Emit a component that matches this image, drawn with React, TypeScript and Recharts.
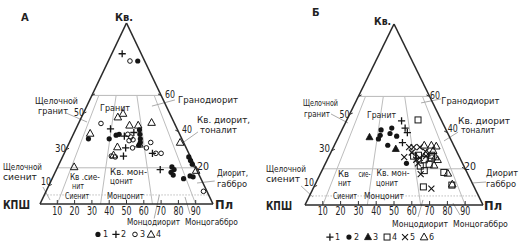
import React from 'react';
import { ScatterChart, Scatter, XAxis, YAxis, ReferenceLine, ReferenceDot } from 'recharts';

// ---- data: [Q, P] in percent (Q = кварц, P = плагиоклаз, КПШ = 100 - Q - P)
const leftS1: number[][] = [[79,17],[36,10],[36,22],[38,25],[38.5,26.5],[41,37],[38.5,38.5],[36,40],[34,41],[32.5,41],[26,73],[24,75],[22,77],[20.5,66],[19,68],[17.5,67],[16,69],[14,76],[15.5,79],[15,81]];
const leftS2: number[][] = [[83,6],[41.5,20],[37.5,30],[39.5,34.5],[31,34],[26.5,35],[28,51],[19,60]];
const leftS3: number[][] = [[79,12.5],[44.5,13],[38.5,31.5],[37,34],[35,34],[35.5,36],[31,38],[31,46],[34,47],[26.5,28],[26,30.5],[28,53],[28,56],[7,91]];
const leftS4: number[][] = [[48,21],[50,23],[43.5,30],[43.5,35],[45,42],[39,9.5],[31.5,29],[33,41],[27,29],[34,64],[20.5,9.5],[18.5,81]];

const rightS1: number[][] = [[46.5,31],[42.5,35],[40,37.5],[34.5,37.5]];
const rightS2: number[][] = [[41.5,22],[42.5,27.5],[39.5,28],[38.5,23],[36.5,23],[38,32.5],[33,30],[23,45.5]];
const rightS3: number[][] = [[37.5,17.5],[31,35.5]];
const rightS4: number[][] = [[47,40],[27.5,50],[25,54.5],[22.5,58.5],[21.5,54],[26,58],[19,57.5],[18,69],[11,77],[10,61.5],[27.5,57.5],[27,47.5]];
const rightS5: number[][] = [[32,42.5],[32,45],[32,48.5],[26.5,42.5],[29,45.5],[25,50],[27,54.5],[17,56.5],[9,66.5],[23,52],[29.5,53],[26,51.5]];
const rightS6: number[][] = [[33,50.5],[33,54.5],[32.5,57.5],[30,57],[26.5,60],[28.5,54],[17.5,71.5],[11.5,77],[22,61.5],[25,62]];

const baseTicks = [10, 20, 30, 40, 50, 60, 70, 80, 90];
const qLines = [60, 20];
const radialRatios = [10, 35, 65, 90];

type Lbl = { t: string; x: number; y: number; w?: number; s?: number; b?: boolean };

const leftLabels: Lbl[] = [
  { t: 'А', x: -11, y: 101, s: 10, b: true },
  { t: 'Кв.', x: 43.4, y: 101, s: 11, b: true, w: 18 },
  { t: '60', x: 72.3, y: 58.6, s: 11, w: 10 },
  { t: 'Гранодиорит', x: 79.8, y: 55.6, w: 60 },
  { t: 'Щелочной', x: -2.9, y: 55.2, w: 43 },
  { t: 'гранит', x: -1.2, y: 49.7, w: 30 },
  { t: '50', x: 19.7, y: 48.6, s: 11, w: 10 },
  { t: 'Гранит', x: 34.7, y: 51.4, w: 30 },
  { t: 'Кв. диорит,', x: 90.8, y: 44.8, w: 53 },
  { t: 'тоналит', x: 92.5, y: 39.2, w: 37 },
  { t: '40', x: 82.1, y: 39.2, s: 11, w: 10 },
  { t: '30', x: 8.7, y: 28.7, s: 11, w: 11 },
  { t: '20', x: 90.8, y: 18.8, s: 11, w: 12 },
  { t: 'Щелочной', x: -21.4, y: 18.8, w: 39 },
  { t: 'сиенит', x: -21.4, y: 13.3, w: 34 },
  { t: '10', x: 0.6, y: 10.5, s: 11, w: 10 },
  { t: 'Диорит,', x: 102.3, y: 15.5, w: 31 },
  { t: 'габбро', x: 102.3, y: 9.4, w: 30 },
  { t: 'Кв .сие-', x: 17.3, y: 13.3, w: 30 },
  { t: 'нит', x: 18.5, y: 8.3, w: 12 },
  { t: 'Кв. мон-', x: 40.5, y: 16.0, w: 37 },
  { t: 'цонит', x: 40.5, y: 11.0, w: 23 },
  { t: 'Сиенит', x: 14.5, y: 2.8, w: 24 },
  { t: 'Монцонит', x: 38.7, y: 2.8, w: 37 },
  { t: 'КПШ', x: -21.4, y: -2.8, s: 12, b: true, w: 27 },
  { t: 'Пл', x: 101.2, y: -2.8, s: 12, b: true, w: 18 },
  { t: 'Монцодиорит', x: 50.3, y: -11.6, w: 53 },
  { t: 'Монцогаббро', x: 83.8, y: -11.6, w: 53 },
];

const rightLabels: Lbl[] = [
  { t: 'Б', x: 3.9, y: 104.4, s: 10, b: true },
  { t: 'Кв.', x: 38.8, y: 99.4, s: 11, b: true, w: 17 },
  { t: '60', x: 70.2, y: 58.6, s: 11, w: 10 },
  { t: 'Гранодиорит', x: 76.6, y: 55.8, w: 58 },
  { t: 'Щелочной', x: -1.1, y: 54.6, w: 35 },
  { t: 'гранит', x: -0.6, y: 48.8, w: 26 },
  { t: '50', x: 19.4, y: 48.0, s: 11, w: 10 },
  { t: 'Гранит', x: 34.8, y: 48.1, w: 29 },
  { t: 'Кв. диорит', x: 86.0, y: 45.0, w: 52, s: 8 },
  { t: 'тоналит', x: 87.6, y: 39.6, w: 34, s: 8 },
  { t: '40', x: 80.2, y: 40.3, s: 11, w: 10 },
  { t: '30', x: 7.9, y: 29.3, s: 11, w: 11 },
  { t: '20', x: 89.3, y: 19.3, s: 11, w: 12 },
  { t: 'Щелочной', x: -21.9, y: 18.2, w: 40 },
  { t: 'сиенит', x: -21.9, y: 12.7, w: 34 },
  { t: '10', x: -0.6, y: 10.5, s: 11, w: 10 },
  { t: 'Диорит', x: 101.7, y: 16.0, w: 32 },
  { t: 'габбро', x: 101.7, y: 9.9, w: 30 },
  { t: 'Кв', x: 18.5, y: 15.5, w: 11 },
  { t: 'сие-', x: 30.0, y: 15.5, w: 12 },
  { t: 'Кв. мон-', x: 40.2, y: 16.0, w: 33 },
  { t: 'нит', x: 18.5, y: 10.5, w: 13 },
  { t: 'цонит', x: 39.9, y: 10.5, w: 22 },
  { t: 'Сиенит', x: 15.7, y: 3.3, w: 24 },
  { t: 'Монцонит', x: 33.1, y: 3.3, w: 40 },
  { t: 'КПШ', x: -21.9, y: -2.8, s: 12, b: true, w: 26 },
  { t: 'Пл', x: 100.6, y: -2.8, s: 12, b: true, w: 18 },
  { t: 'Монцодиорит', x: 48.9, y: -12.2, w: 56 },
  { t: 'Монцогаббро', x: 83.1, y: -12.2, w: 55 },
];

// leader lines in chart coordinates [x1, y1, x2, y2]
const leftLeaders = [[64.7, 54.1, 78.0, 57.5], [15.0, 50.3, 27.2, 45.3], [83.2, 34.3, 91.3, 39.8], [90.8, 11.6, 101, 12.7], [1.7, 9.4, 5.8, 2.2], [66, -8, 69, 5], [86.7, -5.5, 83.8, 3.9]];
const rightLeaders = [[65.2, 56.4, 76.4, 58.6], [14.6, 50.3, 24.2, 45.3], [78.1, 35.4, 86.0, 40.3], [94.4, 12.2, 101.7, 12.7], [-2.2, 10.5, 4.5, 4.4], [63.5, -6.6, 66.3, 2.8], [87.1, -5.5, 83.1, 1.1]];

const leftEdgeTicks = [10, 30, 50, 60];
const rightEdgeTicks = [20, 40, 60];

const FONT = "'DejaVu Sans', sans-serif";
const INK = '#151515';

const toXY = (d: number[]) => ({ x: d[1] + d[0] / 2, y: d[0] });
const tern = (q: number, r: number) => ({ x: (r * (100 - q)) / 100 + q / 2, y: q });

type ShapeName = 'dot' | 'plus' | 'circle' | 'tri' | 'triF' | 'square' | 'cross';

const drawShape = (name: ShapeName, cx: number, cy: number, key?: string) => {
  switch (name) {
    case 'dot':
      return <circle key={key} cx={cx} cy={cy} r={2.6} fill={INK} />;
    case 'plus':
      return <path key={key} d={`M${cx - 3.6},${cy}h7.2M${cx},${cy - 3.6}v7.2`} stroke={INK} strokeWidth={1.3} fill="none" />;
    case 'circle':
      return <circle key={key} cx={cx} cy={cy} r={2.3} fill="none" stroke={INK} strokeWidth={1} />;
    case 'tri':
      return <path key={key} d={`M${cx},${cy - 4}L${cx + 3.8},${cy + 2.8}L${cx - 3.8},${cy + 2.8}Z`} fill="none" stroke={INK} strokeWidth={1} />;
    case 'triF':
      return <path key={key} d={`M${cx},${cy - 3.8}L${cx + 3.5},${cy + 2.6}L${cx - 3.5},${cy + 2.6}Z`} fill={INK} stroke={INK} strokeWidth={0.8} />;
    case 'square':
      return <rect key={key} x={cx - 3} y={cy - 3} width={6} height={6} fill="none" stroke={INK} strokeWidth={1} />;
    case 'cross':
      return <path key={key} d={`M${cx - 3},${cy - 3}L${cx + 3},${cy + 3}M${cx + 3},${cy - 3}L${cx - 3},${cy + 3}`} stroke={INK} strokeWidth={1.1} fill="none" />;
  }
};

type SeriesDef = { name: string; data: number[][]; shape: ShapeName; lx: number };

type Cfg = {
  margin: { top: number; right: number; bottom: number; left: number };
  series: SeriesDef[];
  labels: Lbl[];
  leaders: number[][];
  edgeTicksLeft: number[];
  legendY: number;
  tickY: number;
};

const leftCfg: Cfg = {
  margin: { top: 23, right: 48, bottom: 43, left: 40 },
  series: [
    { name: '1', data: leftS1, shape: 'dot', lx: 33.5 },
    { name: '2', data: leftS2, shape: 'plus', lx: 43.9 },
    { name: '3', data: leftS3, shape: 'circle', lx: 54.9 },
    { name: '4', data: leftS4, shape: 'tri', lx: 64.2 },
  ],
  labels: leftLabels,
  leaders: leftLeaders,
  edgeTicksLeft: leftEdgeTicks,
  legendY: -16.8,
  tickY: -6.3,
};

const rightCfg: Cfg = {
  margin: { top: 24, right: 39, bottom: 42, left: 44 },
  series: [
    { name: '1', data: rightS1, shape: 'plus', lx: 14.0 },
    { name: '2', data: rightS2, shape: 'dot', lx: 24.7 },
    { name: '3', data: rightS3, shape: 'triF', lx: 35.4 },
    { name: '4', data: rightS4, shape: 'square', lx: 46.1 },
    { name: '5', data: rightS5, shape: 'cross', lx: 56.2 },
    { name: '6', data: rightS6, shape: 'tri', lx: 66.9 },
  ],
  labels: rightLabels,
  leaders: rightLeaders,
  edgeTicksLeft: leftEdgeTicks,
  legendY: -17.7,
  tickY: -5.8,
};

const seg = (a: { x: number; y: number }, b: { x: number; y: number }, key: string, stroke: string, w: number, dash?: string) => (
  <ReferenceLine key={key} segment={[a, b]} stroke={stroke} strokeWidth={w} strokeDasharray={dash} ifOverflow="visible" />
);

const textDot = (l: Lbl, key: string, anchor: 'start' | 'middle' = 'start') => (
  <ReferenceDot
    key={key}
    x={l.x}
    y={l.y}
    r={0}
    ifOverflow="visible"
    shape={(p: any) => (
      <text
        x={p.cx}
        y={p.cy}
        fontFamily={FONT}
        fontSize={l.s ?? 8.5}
        fontWeight={l.b ? 'bold' : 'normal'}
        fill="#222"
        textAnchor={anchor}
        {...(l.w ? { textLength: l.w, lengthAdjust: 'spacingAndGlyphs' } : {})}
      >
        {l.t}
      </text>
    )}
  />
);

function Triangle({ cfg }: { cfg: Cfg }) {
  const A = tern(0, 0);
  const P = tern(0, 100);
  const Q = tern(100, 0);
  const grid: React.ReactNode[] = [];
  qLines.forEach((q) => grid.push(seg(tern(q, 0), tern(q, 100), `q${q}`, '#b8b8b8', 1)));
  grid.push(seg(tern(5, 0), tern(5, 100), 'q5', '#bdbdbd', 1, '1.5 1.5'));
  radialRatios.forEach((r) => grid.push(seg(tern(60, r), tern(0, r), `r${r}`, '#bdbdbd', 1)));
  cfg.leaders.forEach((l, i) => grid.push(seg({ x: l[0], y: l[1] }, { x: l[2], y: l[3] }, `ld${i}`, '#a0a0a0', 0.9)));

  const ticks: React.ReactNode[] = [];
  baseTicks.forEach((t) => ticks.push(seg({ x: t, y: 0 }, { x: t, y: 2.2 }, `bt${t}`, '#333', 1)));
  cfg.edgeTicksLeft.forEach((q) => {
    const e = tern(q, 0);
    ticks.push(seg(e, { x: e.x + 1.8, y: q + 0.8 }, `lt${q}`, '#333', 1));
  });
  rightEdgeTicks.forEach((q) => {
    const e = tern(q, 100);
    ticks.push(seg(e, { x: e.x - 1.8, y: q + 0.8 }, `rt${q}`, '#333', 1));
  });

  return (
    <ScatterChart width={261} height={247} margin={cfg.margin}>
      <XAxis type="number" dataKey="x" domain={[0, 100]} hide allowDataOverflow />
      <YAxis type="number" dataKey="y" domain={[0, 100]} hide allowDataOverflow />
      {grid}
      {seg(A, P, 'eb', '#2a2a2a', 1.6)}
      {seg(A, Q, 'el', '#2a2a2a', 1.6)}
      {seg(P, Q, 'er', '#2a2a2a', 1.6)}
      {ticks}
      {cfg.series.map((s) => (
        <Scatter
          key={s.name}
          name={s.name}
          data={s.data.map(toXY)}
          isAnimationActive={false}
          shape={(p: any) => drawShape(s.shape, p.cx, p.cy) as any}
        />
      ))}
      {cfg.labels.map((l, i) => textDot(l, `lb${i}`))}
      {baseTicks.map((t) => textDot({ t: String(t), x: t, y: cfg.tickY, s: 12, w: 10 }, `tn${t}`, 'middle'))}
      {cfg.series.map((s) => (
        <ReferenceDot
          key={`lg${s.name}`}
          x={s.lx}
          y={cfg.legendY}
          r={0}
          ifOverflow="visible"
          shape={(p: any) => (
            <g>
              {drawShape(s.shape, p.cx, p.cy)}
              <text x={p.cx + 5} y={p.cy + 3} fontFamily={FONT} fontSize={8} fill="#222">
                {s.name}
              </text>
            </g>
          )}
        />
      ))}
    </ScatterChart>
  );
}

export default function App() {
  return (
    <div style={{ position: 'absolute', left: 0, top: 0, width: 522, height: 247, background: '#fff', display: 'flex' }}>
      <Triangle cfg={leftCfg} />
      <Triangle cfg={rightCfg} />
    </div>
  );
}
